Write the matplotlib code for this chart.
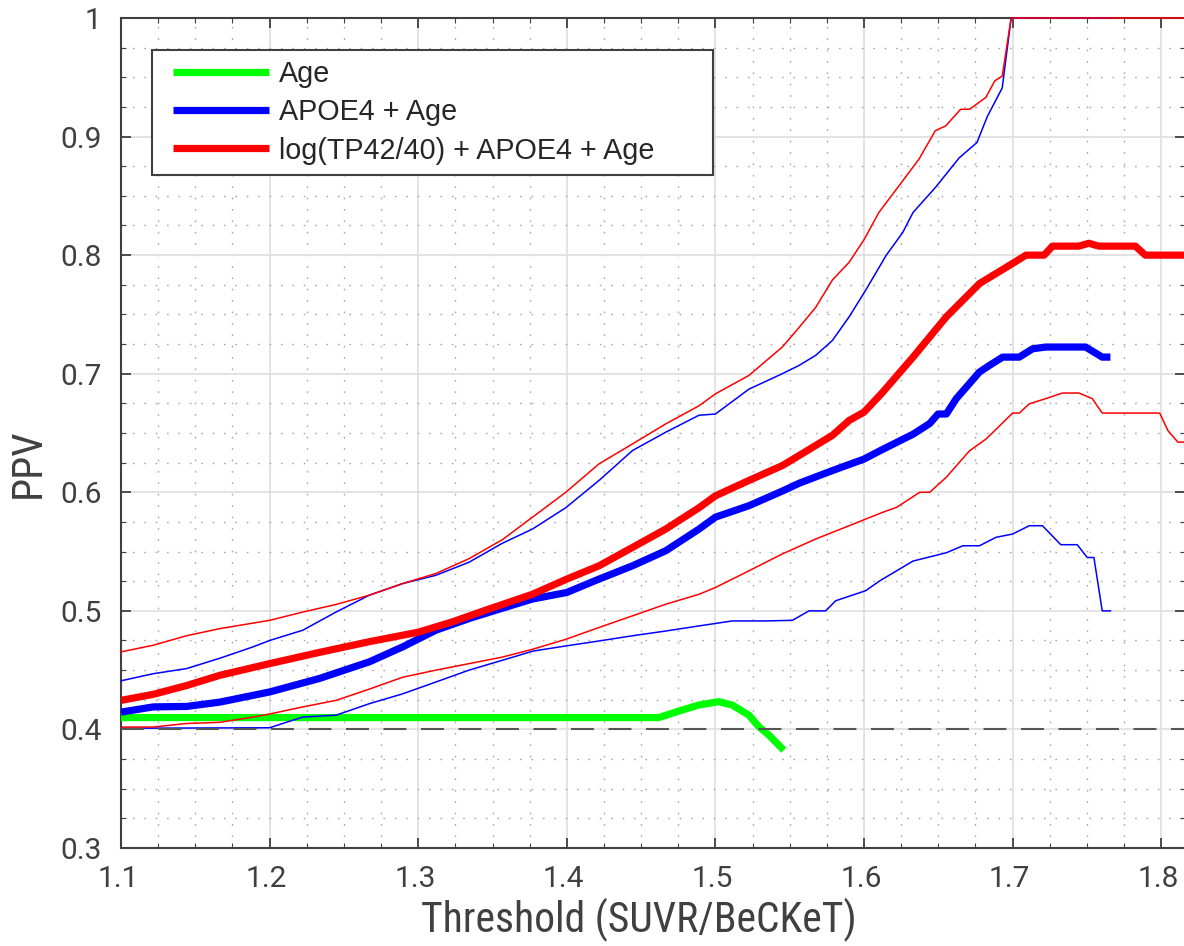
import os
import numpy as np
import matplotlib
matplotlib.use("Agg")
import matplotlib.pyplot as plt
import matplotlib.transforms as mtransforms
from matplotlib import font_manager as fm
from matplotlib.patches import Rectangle
from matplotlib.ticker import MultipleLocator

# data
age_x = [1.1, 1.4618, 1.4775, 1.4888, 1.5022, 1.5112, 1.5225, 1.5292, 1.536, 1.546]
age_y = [0.41, 0.41, 0.4163, 0.4206, 0.4234, 0.4206, 0.4121, 0.4023, 0.3952, 0.3825]

apoe_x = [1.1, 1.1217, 1.1441, 1.1664, 1.2, 1.2336, 1.2671, 1.2895, 1.3119, 1.3342,
          1.3545, 1.3769, 1.4, 1.4217, 1.4442, 1.4666, 1.489, 1.5, 1.5226, 1.545,
          1.5563, 1.5787, 1.6, 1.6107, 1.633, 1.6442, 1.6498, 1.6554, 1.6621, 1.6777,
          1.6844, 1.6933, 1.7045, 1.7134, 1.7223, 1.7491, 1.7603, 1.7658]
apoe_y = [0.4146, 0.419, 0.4194, 0.423, 0.4316, 0.443, 0.457, 0.4696, 0.4837, 0.4935,
          0.5014, 0.51, 0.5155, 0.5268, 0.538, 0.5507, 0.569, 0.579, 0.5887, 0.601,
          0.6076, 0.6183, 0.628, 0.635, 0.649, 0.658, 0.666, 0.666, 0.679, 0.7014,
          0.707, 0.714, 0.714, 0.721, 0.7225, 0.7225, 0.714, 0.714]

apoe_hi_x = [1.1, 1.1217, 1.1441, 1.1664, 1.1888, 1.2, 1.2224, 1.2447, 1.2671, 1.2895,
             1.3119, 1.3342, 1.3566, 1.3769, 1.3993, 1.4217, 1.4442, 1.4666, 1.489, 1.5,
             1.5226, 1.545, 1.5563, 1.5675, 1.5787, 1.59, 1.6011, 1.615, 1.626, 1.633,
             1.648, 1.664, 1.676, 1.683, 1.693, 1.699, 1.7658]
apoe_hi_y = [0.441, 0.447, 0.4513, 0.46, 0.4696, 0.475, 0.4837, 0.499, 0.5132, 0.523,
             0.530, 0.541, 0.557, 0.569, 0.587, 0.61, 0.6352, 0.6507, 0.665, 0.666,
             0.687, 0.7, 0.707, 0.7155, 0.728, 0.748, 0.7704, 0.8, 0.819, 0.836,
             0.857, 0.882, 0.895, 0.917, 0.941, 1.0, 1.0]

apoe_lo_x = [1.1, 1.2, 1.2112, 1.2224, 1.2447, 1.2671, 1.2895, 1.3119, 1.3342, 1.3678,
             1.3769, 1.3993, 1.4217, 1.4442, 1.4666, 1.489, 1.5114, 1.5338, 1.5518, 1.563,
             1.5742, 1.5809, 1.6011, 1.6107, 1.633, 1.6554, 1.6665, 1.6777, 1.6888, 1.7,
             1.7112, 1.7201, 1.7324, 1.7435, 1.7502, 1.7547, 1.7603, 1.7658]
apoe_lo_y = [0.401, 0.4014, 0.406, 0.4104, 0.412, 0.4217, 0.430, 0.44, 0.45, 0.4625,
             0.466, 0.4704, 0.4746, 0.479, 0.483, 0.4873, 0.4915, 0.4915, 0.492, 0.5,
             0.5, 0.5085, 0.517, 0.5254, 0.542, 0.549, 0.5549, 0.5549, 0.562, 0.5648,
             0.5718, 0.5718, 0.5558, 0.5558, 0.545, 0.545, 0.5, 0.5]

tp_x = [1.1, 1.1217, 1.1441, 1.1664, 1.2, 1.2336, 1.2671, 1.3, 1.323, 1.3454,
        1.3769, 1.4, 1.4217, 1.4442, 1.4666, 1.489, 1.5, 1.5226, 1.545, 1.5563,
        1.5787, 1.59, 1.6, 1.6123, 1.633, 1.6554, 1.6777, 1.6888, 1.7, 1.709,
        1.7212, 1.7268, 1.7446, 1.7513, 1.758, 1.7826, 1.7893, 1.816]
tp_y = [0.4245, 0.4296, 0.437, 0.4456, 0.4555, 0.465, 0.474, 0.482, 0.4907, 0.5006,
        0.514, 0.5268, 0.538, 0.5535, 0.569, 0.587, 0.597, 0.61, 0.6225, 0.631,
        0.648, 0.6606, 0.6676, 0.684, 0.714, 0.748, 0.776, 0.7845, 0.793, 0.8,
        0.8, 0.8076, 0.8076, 0.81, 0.8076, 0.8076, 0.8, 0.8]

tp_hi_x = [1.1, 1.1217, 1.1441, 1.1664, 1.2, 1.2224, 1.2447, 1.2671, 1.2895, 1.3119,
           1.3342, 1.3566, 1.3769, 1.3993, 1.4217, 1.4442, 1.4666, 1.489, 1.5, 1.5226,
           1.545, 1.5563, 1.5675, 1.5787, 1.59, 1.6, 1.61, 1.626, 1.637, 1.648,
           1.655, 1.665, 1.671, 1.682, 1.688, 1.693, 1.699, 1.816]
tp_hi_y = [0.4654, 0.471, 0.479, 0.485, 0.492, 0.499, 0.5054, 0.5132, 0.523, 0.5315,
           0.544, 0.56, 0.579, 0.6, 0.624, 0.6408, 0.6577, 0.673, 0.683, 0.6986,
           0.7225, 0.739, 0.756, 0.779, 0.794, 0.813, 0.836, 0.8626, 0.881, 0.905,
           0.909, 0.923, 0.923, 0.933, 0.947, 0.951, 1.0, 1.0]

tp_lo_x = [1.1, 1.1217, 1.1441, 1.1664, 1.1888, 1.2, 1.2224, 1.2447, 1.2671, 1.2895,
           1.3119, 1.3342, 1.3566, 1.3769, 1.3993, 1.4217, 1.4442, 1.4666, 1.489, 1.5,
           1.5226, 1.545, 1.5675, 1.59, 1.6123, 1.6219, 1.6375, 1.6442, 1.6554, 1.671,
           1.6822, 1.7, 1.7045, 1.7112, 1.7223, 1.7335, 1.7446, 1.7536, 1.7603, 1.799,
           1.8045, 1.8112, 1.816]
tp_lo_y = [0.402, 0.402, 0.405, 0.406, 0.4104, 0.413, 0.419, 0.4245, 0.434, 0.444,
           0.45, 0.4555, 0.461, 0.4676, 0.476, 0.486, 0.4958, 0.5056, 0.514, 0.5197,
           0.5338, 0.548, 0.5606, 0.5718, 0.583, 0.5873, 0.6, 0.6, 0.6127, 0.635,
           0.645, 0.6668, 0.6668, 0.6746, 0.679, 0.6837, 0.6837, 0.679, 0.6668, 0.6668,
           0.652, 0.6423, 0.6423]

chance = 0.4
xticks = [1.1, 1.2, 1.3, 1.4, 1.5, 1.6, 1.7, 1.8]
yticks = [0.3, 0.4, 0.5, 0.6, 0.7, 0.8, 0.9, 1.0]
ytick_labels = ['0.3', '0.4', '0.5', '0.6', '0.7', '0.8', '0.9', '1']
labels = ['Age', 'APOE4 + Age', 'log(TP42/40) + APOE4 + Age']
xlabel = 'Threshold (SUVR/BeCKeT)'


def narrow_font():
    # the axis titles in the reference use a condensed face; take one if installed
    prefs = ['Roboto Condensed', 'Liberation Sans Narrow', 'Noto Sans Condensed',
             'Open Sans Condensed', 'DejaVu Sans Condensed', 'Arial Narrow']
    cands = []
    for f in fm.fontManager.ttflist:
        base = os.path.basename(f.fname)
        if f.style != 'normal':
            continue
        if any(k in base for k in ('Light', 'Thin', 'Medium', 'Bold', 'Black', 'Semi', 'Extra')):
            continue
        narrowish = (any(k in f.name for k in ('Condensed', 'Narrow'))
                     or any(k in base for k in ('Condensed', 'Narrow'))
                     or f.stretch in ('condensed', 'semi-condensed', 'extra-condensed', 'narrow'))
        if narrowish:
            cands.append(f)
    for p in prefs:
        for f in cands:
            if f.name == p or p.replace(' ', '') in os.path.basename(f.fname):
                return fm.FontProperties(fname=f.fname)
    if cands:
        return fm.FontProperties(fname=cands[0].fname)
    return fm.FontProperties(family='Liberation Sans')


grey = '#404040'
fig = plt.figure(figsize=(11.84, 9.46), dpi=100)
ax = fig.add_axes([121 / 1184, 98 / 946, 1064 / 1184, 830 / 946])

nf = narrow_font()
probe = fig.text(0, 0, xlabel, fontproperties=nf, fontsize=30)
w = probe.get_window_extent(renderer=fig.canvas.get_renderer()).width
probe.remove()
k = min(1.0, 438.0 / w)

thick = 5.2
thin = 1.1
h_age, = ax.plot(age_x, age_y, color=(0, 1, 0), lw=thick, zorder=3, solid_capstyle='butt')
ax.plot(apoe_hi_x, apoe_hi_y, color=(0, 0, 1), lw=thin, zorder=3, clip_on=False)
ax.plot(apoe_lo_x, apoe_lo_y, color=(0, 0, 1), lw=thin, zorder=3)
h_apoe, = ax.plot(apoe_x, apoe_y, color=(0, 0, 1), lw=thick, zorder=3, solid_capstyle='butt')
ax.plot(tp_hi_x, tp_hi_y, color=(1, 0, 0), lw=thin, zorder=3, clip_on=False)
ax.plot(tp_lo_x, tp_lo_y, color=(1, 0, 0), lw=thin, zorder=3)
h_tp, = ax.plot(tp_x, tp_y, color=(1, 0, 0), lw=thick, zorder=3, solid_capstyle='butt')
ax.axhline(chance, color='#555555', lw=1.5, dashes=(11, 7), zorder=4)

ax.set_xlim(1.1, 1.816)
ax.set_ylim(0.3, 1.0)
ax.set_xticks(xticks)
ax.set_xticklabels([f'{v:.1f}' for v in xticks], family='Roboto', fontsize=21.5, color=grey)
ax.set_yticks(yticks)
ax.set_yticklabels(ytick_labels, family='Roboto', fontsize=21.5, color=grey)
ax.xaxis.set_minor_locator(MultipleLocator(0.025))
ax.yaxis.set_minor_locator(MultipleLocator(0.025))
ax.tick_params(which='both', direction='in', top=True, right=True, colors=grey)
ax.tick_params(which='major', length=7, width=1.3)
ax.tick_params(which='minor', length=3.5, width=0.8)
ax.tick_params(axis='x', which='major', pad=12)
ax.tick_params(axis='y', which='major', pad=14)

# x tick labels sit a few pixels left of their ticks in the reference
shift = mtransforms.ScaledTranslation(-3 / 100, 0, fig.dpi_scale_trans)
for lab in ax.get_xticklabels():
    lab.set_transform(lab.get_transform() + shift)

ax.grid(which='major', color='#dedede', lw=1.2, ls='-')
ax.grid(which='minor', color='#a8a8a8', lw=1.0, ls=(0, (1.2, 7)))
ax.set_axisbelow(True)
for s in ax.spines.values():
    s.set_color(grey)
    s.set_linewidth(1.5)

ax.set_xlabel(xlabel, fontproperties=nf, fontsize=30 * k, color=grey)
ax.xaxis.set_label_coords(0.487, -0.0867)
ax.xaxis.label.set_va('center')
ax.set_ylabel('PPV', fontproperties=nf, fontsize=30 * k, color=grey)
ax.yaxis.set_label_coords(-0.0874, 0.464)
ax.yaxis.label.set_va('center')

# legend box drawn separately so its padding can follow the reference
box = Rectangle((31 / 1064, 673 / 830), 561 / 1064, 125 / 830, transform=ax.transAxes,
                facecolor='white', edgecolor=grey, lw=1.5, zorder=4.8, clip_on=False)
ax.add_patch(box)
leg = ax.legend([h_age, h_apoe, h_tp], labels, loc='center left',
                bbox_to_anchor=(51.6 / 1064, 735.7 / 830), borderaxespad=0, frameon=False,
                prop={'family': 'Liberation Sans', 'size': 20.7},
                handlelength=3.34, handletextpad=0.35, labelspacing=0.355, borderpad=0)
leg.set_zorder(5)
for t in leg.get_texts():
    t.set_color('#262626')

fig.savefig('out.png', dpi=100)
